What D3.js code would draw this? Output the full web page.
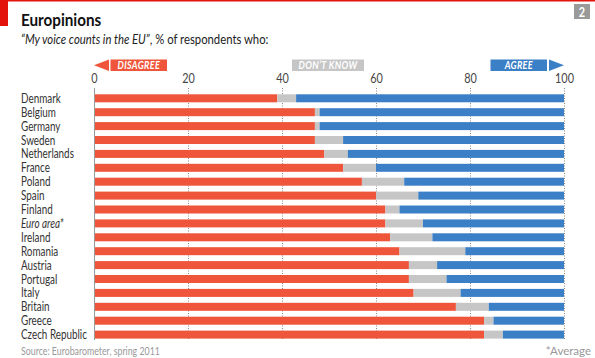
<!DOCTYPE html>
<html><head><meta charset="utf-8">
<script src="https://cdn.jsdelivr.net/npm/d3@7"></script>
<style>
body{margin:0;background:#fff;}
svg{display:block;}
text{font-family:Lato,"Open Sans",sans-serif;}
</style></head><body>
<svg id="c" width="595" height="358"></svg>
<script>
const countries = ["Denmark","Belgium","Germany","Sweden","Netherlands","France","Poland","Spain","Finland","Euro area*","Ireland","Romania","Austria","Portugal","Italy","Britain","Greece","Czech Republic"];
const disagree = [39,47,47,47,49,53,57,60,62,62,63,65,67,67,68,77,83,83];
const dontKnow = [4,1,1,6,5,7,9,9,3,8,9,14,6,8,10,7,2,4];
const agree = disagree.map((d,i)=>100-d-dontKnow[i]);
const ticks = [0,20,40,60,80,100];

const colors = {disagree:"#ef553a", dontKnow:"#c6c6c6", agree:"#3b7fc6"};
const svg = d3.select("#c");
const K = 0.87; // horizontal condensing to mimic narrow house font

function ntext(parent, x, y, k){
  return parent.append("text").attr("transform",`translate(${x},${y}) scale(${k||K},1)`);
}

// header
svg.append("rect").attr("x",0).attr("y",0).attr("width",595).attr("height",1.5).attr("fill","#e3120b");
svg.append("rect").attr("x",0).attr("y",0).attr("width",8).attr("height",26).attr("fill","#e3120b");
ntext(svg,21,26).attr("font-size",17.5).attr("font-weight","bold").attr("fill","#111").text("Europinions");
const sub = ntext(svg,21,44).attr("font-size",13).attr("fill","#222");
sub.append("tspan").attr("font-style","italic").text("\u201cMy voice counts in the EU\u201d");
sub.append("tspan").text(", % of respondents who:");
svg.append("rect").attr("x",574).attr("y",4).attr("width",16).attr("height",15).attr("fill","#9a9a9a");
ntext(svg,582,16.5).attr("text-anchor","middle").attr("font-size",12.5).attr("font-weight","bold").attr("fill","#fff").text("2");

const x = d3.scaleLinear().domain([0,100]).range([94,564]);
const y = d3.scaleBand().domain(countries).range([91.35,341.55]).paddingInner(0.4245).paddingOuter(0.21225);

// legend
const lg = svg.append("g");
const ly0=59.5, lh=11.5;
function legendBox(x0,x1,fill,label){
  lg.append("rect").attr("x",x0).attr("y",ly0).attr("width",x1-x0).attr("height",lh).attr("fill",fill);
  ntext(lg,(x0+x1)/2,ly0+9.4,0.85).attr("text-anchor","middle").attr("font-size",10.5)
    .attr("font-weight","bold").attr("font-style","italic").attr("fill","#fff").attr("letter-spacing",0.4).text(label);
}
lg.append("path").attr("d",`M${x(0)},${ly0+lh/2} L${x(0)+15},${ly0} L${x(0)+15},${ly0+lh} Z`).attr("fill",colors.disagree);
legendBox(x(0)+16.5,167,colors.disagree,"DISAGREE");
legendBox(292,364,colors.dontKnow,"DON\u2019T KNOW");
legendBox(490.5,547,colors.agree,"AGREE");
lg.append("path").attr("d",`M${x(100)},${ly0+lh/2} L${x(100)-15},${ly0} L${x(100)-15},${ly0+lh} Z`).attr("fill",colors.agree);

// axis
const axis = d3.axisTop(x).tickValues(ticks).tickSize(0).tickFormat(d3.format("d"));
const ag = svg.append("g").attr("transform","translate(0,86)").call(axis);
ag.select(".domain").remove();
ag.selectAll("text").attr("font-size",12.5).attr("fill","#444").attr("dy",0)
  .attr("transform",`scale(${K},1)`);

// gridlines
svg.append("g").selectAll("line").data(ticks.filter(d=>d>0)).join("line")
  .attr("x1",d=>x(d)+0.5).attr("x2",d=>x(d)+0.5).attr("y1",88).attr("y2",340)
  .attr("stroke","#8a8a8a").attr("stroke-width",1).attr("stroke-dasharray","1,1.5");
svg.append("line").attr("x1",x(0)+0.5).attr("x2",x(0)+0.5).attr("y1",88).attr("y2",340).attr("stroke","#9a9a9a").attr("stroke-width",1);

// bars
const rows = countries.map((c,i)=>({c, segs:[
  {k:"disagree",x0:0,x1:disagree[i]},
  {k:"dontKnow",x0:disagree[i],x1:disagree[i]+dontKnow[i]},
  {k:"agree",x0:disagree[i]+dontKnow[i],x1:disagree[i]+dontKnow[i]+agree[i]}]}));
const rg = svg.append("g").selectAll("g").data(rows).join("g");
rg.selectAll("rect").data(d=>d.segs.map(s=>({...s,c:d.c}))).join("rect")
  .attr("x",d=>x(d.x0)+(d.x0===0?1:0)).attr("width",d=>x(d.x1)-x(d.x0)-(d.x0===0?1:0))
  .attr("y",d=>y(d.c)).attr("height",y.bandwidth()).attr("fill",d=>colors[d.k]);

// labels
svg.append("g").selectAll("text").data(countries).join("text")
  .attr("transform",d=>`translate(21,${y(d)+y.bandwidth()/2+4.5}) scale(0.79,1)`)
  .attr("font-size",12.5).attr("fill","#333")
  .attr("font-style",d=>d==="Euro area*"?"italic":null)
  .text(d=>d);

// footer
ntext(svg,21,355,0.8).attr("font-size",11).attr("fill","#999").text("Source: Eurobarometer, spring 2011");
ntext(svg,591,355,1).attr("text-anchor","end").attr("font-size",11.5).attr("fill","#999").text("*Average");
</script></body></html>
